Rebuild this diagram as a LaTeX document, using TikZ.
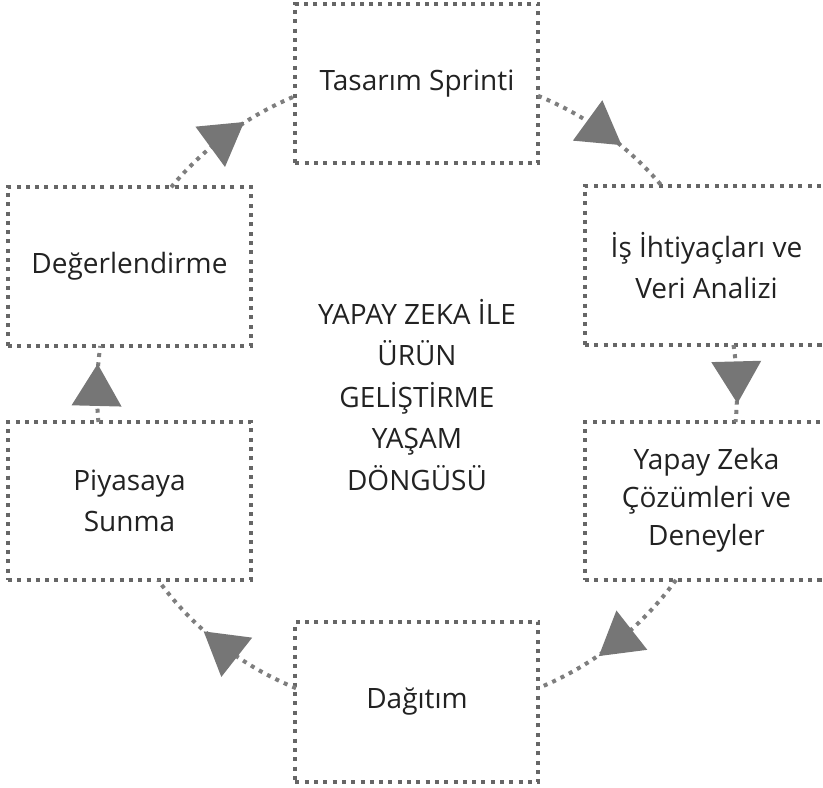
\documentclass[tikz,border=0pt]{standalone}
\usepackage{fontspec}
\setmainfont{Open Sans}
\usetikzlibrary{decorations.markings}
\definecolor{dotc}{HTML}{666666}
\definecolor{linec}{HTML}{7E7E7E}
\definecolor{headc}{HTML}{767676}
\definecolor{txt}{HTML}{222222}
\begin{document}
\begin{tikzpicture}[x=1pt,y=1pt,
 box/.style={draw=dotc, line width=4pt, dash pattern=on 4pt off 5.3pt, fill=white,
   minimum width=243pt, minimum height=159pt, inner sep=0pt, align=center,
   font=\fontsize{28}{41}\selectfont, text=txt},
 conn/.style={draw=linec, line width=4pt, dash pattern=on 4pt off 5.3pt,
   postaction={decorate},
   decoration={markings, mark=at position 0.5 with {\fill[headc] (-22pt,-25pt)--(20pt,0pt)--(-22pt,25pt)--cycle;}}}]
\useasboundingbox (-417,392) rectangle (406,-396);
\coordinate (c) at (0,0);
\node[box] (T) at (0,308.5) {Tasarım Sprinti};
\node[box] (I) at (289.5,126.5) {İş İhtiyaçları ve\\Veri Analizi};
\node[box, minimum height=158pt, font=\fontsize{28}{38}\selectfont, text depth=8pt] (Y) at (289.5,-109)
  {Yapay Zeka\\Çözümleri ve\\Deneyler};
\node[box, minimum height=160pt] (D) at (0,-310) {Dağıtım};
\node[box, minimum height=158pt] (P) at (-287.5,-109) {Piyasaya\\Sunma};
\node[box] (E) at (-287.5,125.5) {Değerlendirme};
\node[align=center, font=\fontsize{28}{41.5}\selectfont, text=txt] (title) at (0,-3)
  {YAPAY ZEKA İLE\\ÜRÜN\\GELİŞTİRME\\YAŞAM\\DÖNGÜSÜ};
% connectors: arcs of the cycle circle, from box border to box border
\path (c) ++(67.78:320) coordinate (ti);
\path (c) ++(8.45:320) coordinate (iy);
\path (c) ++(-35.97:320) coordinate (yd);
\path (c) ++(-112.22:320) coordinate (dp);
\path (c) ++(185.38:320) coordinate (pe);
\path (c) ++(140.2:320) coordinate (et);
\draw[conn] (ti) arc[start angle=67.78, end angle=40.07, radius=320];
\draw[conn] (iy) arc[start angle=8.45, end angle=-5.38, radius=320];
\draw[conn] (yd) arc[start angle=-35.97, end angle=-67.78, radius=320];
\draw[conn] (dp) arc[start angle=-112.22, end angle=-144.03, radius=320];
\draw[conn] (pe) arc[start angle=185.38, end angle=171.73, radius=320];
\draw[conn] (et) arc[start angle=140.2, end angle=112.22, radius=320];
\end{tikzpicture}
\end{document}
